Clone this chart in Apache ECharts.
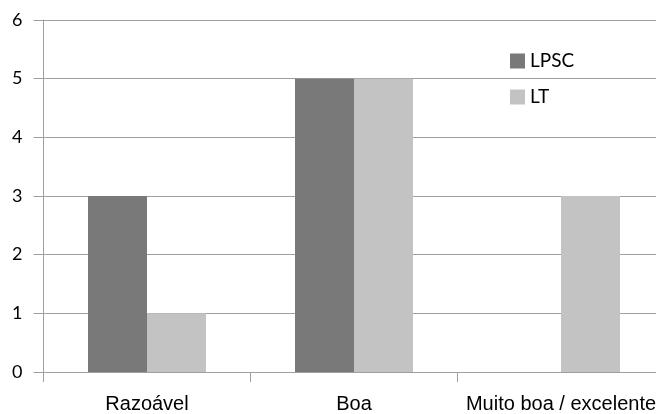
<!DOCTYPE html>
<html>
<head>
<meta charset="utf-8">
<style>
  html, body { margin: 0; padding: 0; background: #ffffff; overflow: hidden; }
  #frame { width: 656px; height: 414px; overflow: hidden; }
  /* the plot runs past the right edge, so the canvas is wider than the frame */
  #chart { width: 665px; height: 414px; }
</style>
<script src="https://cdn.jsdelivr.net/npm/echarts@6/dist/echarts.min.js"></script>
</head>
<body>
<div id="frame"><div id="chart"></div></div>
<script>
// Rating categories and counts per group
const categories = ['Razoável', 'Boa', 'Muito boa / excelente'];
const lpscValues = [3, 5, 0];
const ltValues = [1, 5, 3];
const yTicks = [0, 1, 2, 3, 4, 5, 6];

const gridColor = '#a0a0a0';

const chart = echarts.init(document.getElementById('chart'), null, { renderer: 'canvas' });

chart.setOption({
  animation: false,
  backgroundColor: '#ffffff',
  grid: { left: 43.5, right: 0.5, top: 20, bottom: 41, containLabel: false },
  legend: {
    orient: 'vertical',
    left: 505,
    top: 46.5,
    itemWidth: 15,
    itemHeight: 15,
    itemGap: 17,
    icon: 'rect',
    textStyle: { fontFamily: 'Lato', fontSize: 19, color: '#000000' },
    data: ['LPSC', 'LT']
  },
  xAxis: {
    type: 'category',
    data: categories,
    boundaryGap: true,
    axisLine: { show: true, lineStyle: { color: gridColor, width: 1 } },
    axisTick: { show: true, length: 10, lineStyle: { color: gridColor, width: 1 } },
    axisLabel: { fontFamily: 'Liberation Sans', fontSize: 20, color: '#000000', margin: 22, interval: 0 },
    splitLine: { show: false }
  },
  yAxis: {
    type: 'value',
    min: yTicks[0],
    max: yTicks[yTicks.length - 1],
    interval: 1,
    axisLine: { show: true, lineStyle: { color: gridColor, width: 1 } },
    axisTick: { show: true, inside: false, length: 10, lineStyle: { color: gridColor, width: 1 } },
    axisLabel: { fontFamily: 'Lato', fontSize: 18, color: '#000000', margin: 21 },
    splitLine: { show: true, lineStyle: { color: gridColor, width: 1 } }
  },
  series: [
    {
      name: 'LPSC',
      type: 'bar',
      data: lpscValues,
      barWidth: 59,
      barGap: '0%',
      itemStyle: { color: '#797979' }
    },
    {
      name: 'LT',
      type: 'bar',
      data: ltValues,
      barWidth: 59,
      barGap: '0%',
      itemStyle: { color: '#c3c3c3' }
    }
  ]
});
</script>
</body>
</html>
